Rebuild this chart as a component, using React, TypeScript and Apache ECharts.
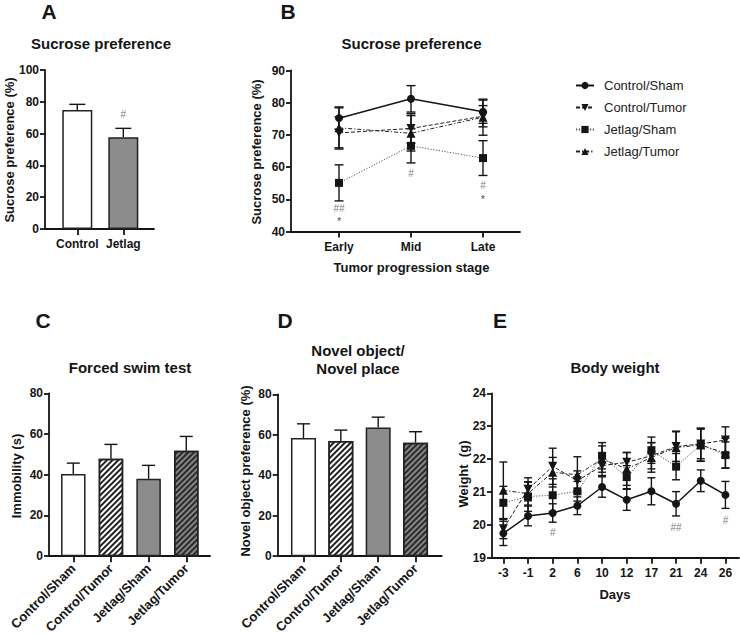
import React, { useEffect, useRef } from "react";
import * as echarts from "echarts";

const FONT = 'Arial, "Liberation Sans", Helvetica, sans-serif';

const groups = ["Control/Sham", "Control/Tumor", "Jetlag/Sham", "Jetlag/Tumor"];

// Panel A – sucrose preference (%)
const aCategories = ["Control", "Jetlag"];
const aValues = [74.8, 57.7];
const aErrors = [3.6, 5.6];
const aNotes = [{ x: 1, y: 72, text: "#" }];

// Panel B – sucrose preference over tumor progression (%)
const bStages = ["Early", "Mid", "Late"];
const bControlSham = [75.2, 81.2, 77.2];
const bControlTumor = [70.6, 72.0, 75.8];
const bJetlagSham = [55.1, 66.6, 62.8];
const bJetlagTumor = [72.2, 70.5, 75.5];
const bControlShamErr = [3.5, 4.1, 3.6];
const bControlTumorErr = [5.0, 4.6, 3.3];
const bJetlagShamErr = [5.6, 5.3, 5.4];
const bJetlagTumorErr = [6.2, 5.5, 5.6];
const bNotes = [
  { x: 0, y: 47.2, text: "##" },
  { x: 0, y: 43.2, text: "*" },
  { x: 1, y: 58.0, text: "#" },
  { x: 2, y: 54.2, text: "#" },
  { x: 2, y: 50.0, text: "*" },
];

// Panel C – forced swim test, immobility (s)
const cValues = [40.3, 47.8, 38.0, 51.8];
const cErrors = [5.4, 7.1, 6.6, 7.0];

// Panel D – novel object preference (%)
const dValues = [58.4, 56.9, 63.6, 56.1];
const dErrors = [7.0, 5.4, 5.1, 5.4];

// Panel E – body weight (g)
const eDays = ["-3", "-1", "2", "6", "10", "12", "17", "21", "24", "26"];
const eControlSham = [19.74, 20.27, 20.36, 20.58, 21.15, 20.76, 21.02, 20.64, 21.34, 20.91];
const eControlTumor = [19.88, 21.08, 21.78, 21.34, 21.8, 21.9, 22.1, 22.38, 22.46, 22.58];
const eJetlagSham = [20.67, 20.86, 20.9, 21.02, 22.1, 21.45, 22.27, 21.77, 22.44, 22.12];
const eJetlagTumor = [21.05, 20.95, 21.6, 21.52, 22.0, 21.7, 22.05, 22.35, 22.43, 22.18];
const eControlShamErr = [0.37, 0.3, 0.28, 0.27, 0.31, 0.32, 0.41, 0.37, 0.33, 0.41];
const eControlTumorErr = [0.3, 0.35, 0.55, 0.3, 0.3, 0.3, 0.4, 0.45, 0.45, 0.4];
const eJetlagShamErr = [0.5, 0.45, 0.5, 0.3, 0.4, 0.35, 0.4, 0.4, 0.5, 0.4];
const eJetlagTumorErr = [0.86, 0.35, 0.45, 0.55, 0.4, 0.5, 0.45, 0.5, 0.5, 0.45];
const eNotes = [
  { x: 2, y: 19.76, text: "#" },
  { x: 7, y: 19.92, text: "##" },
  { x: 9, y: 20.13, text: "#" },
];

const INK = "#151515";

const groupStyles = [
  { symbol: "circle", size: 8, rotate: 0, type: "solid" as any, color: INK, width: 1.5 },
  { symbol: "triangle", size: 9, rotate: 180, type: [4, 2] as any, color: "#222", width: 1 },
  { symbol: "rect", size: 8, rotate: 0, type: [1.2, 1.6] as any, color: "#555", width: 1 },
  { symbol: "triangle", size: 9, rotate: 0, type: [4, 2, 1.2, 2] as any, color: "#222", width: 1 },
];

const hatch = (color: string) => ({
  symbol: "rect",
  symbolSize: 1,
  dashArrayX: [1, 0],
  dashArrayY: [1.1, 1.6],
  rotation: -Math.PI / 4,
  color,
});

const barFills4 = [
  { color: "#ffffff" },
  { color: "#ffffff", decal: hatch("#222") },
  { color: "#8c8c8c" },
  { color: "#858585", decal: hatch("#2a2a2a") },
];
const barFills2 = [{ color: "#ffffff" }, { color: "#8c8c8c" }];

function yAxisCfg(idx: number, min: number, max: number, interval: number) {
  return {
    gridIndex: idx,
    type: "value",
    min,
    max,
    interval,
    axisLine: { show: true, onZero: false, lineStyle: { color: INK, width: 1.8 } },
    axisTick: { show: true, length: 5, lineStyle: { color: INK, width: 1.8 } },
    axisLabel: { fontSize: 12, fontWeight: "bold", color: INK, margin: 6, fontFamily: FONT },
    splitLine: { show: false },
  };
}

function xAxisCfg(idx: number, min: number, max: number, labels: string[], rotate = 0) {
  const ticks = labels.map((_, i) => i);
  return {
    gridIndex: idx,
    type: "value",
    min,
    max,
    axisLine: { show: true, onZero: false, lineStyle: { color: INK, width: 1.8 } },
    axisTick: { show: true, length: 6, customValues: ticks, lineStyle: { color: INK, width: 1.8 } },
    axisLabel: {
      customValues: ticks,
      formatter: (v: number) => labels[Math.round(v)] ?? "",
      fontSize: rotate ? 13 : 12,
      fontWeight: "bold",
      color: INK,
      margin: rotate ? 10 : 9,
      rotate,
      fontFamily: FONT,
    },
    splitLine: { show: false },
  };
}

function errSeries(ai: number, vals: number[], errs: number[], twoSided: boolean, capW: number) {
  return {
    type: "custom",
    xAxisIndex: ai,
    yAxisIndex: ai,
    z: 2,
    silent: true,
    data: vals.map((v, i) => [i, v, errs[i]]),
    encode: { x: 0, y: 1 },
    renderItem: (_p: any, api: any) => {
      const x = api.value(0);
      const y = api.value(1);
      const e = api.value(2);
      const top = api.coord([x, y + e]);
      const bot = api.coord([x, twoSided ? y - e : y]);
      const st = { stroke: INK, lineWidth: 1.4 };
      const children: any[] = [
        { type: "line", shape: { x1: top[0], y1: top[1], x2: bot[0], y2: bot[1] }, style: st },
        { type: "line", shape: { x1: top[0] - capW / 2, y1: top[1], x2: top[0] + capW / 2, y2: top[1] }, style: st },
      ];
      if (twoSided) {
        children.push({
          type: "line",
          shape: { x1: bot[0] - capW / 2, y1: bot[1], x2: bot[0] + capW / 2, y2: bot[1] },
          style: st,
        });
      }
      return { type: "group", children };
    },
  };
}

function barSeries(ai: number, vals: number[], fills: any[], width: number) {
  return {
    type: "bar",
    xAxisIndex: ai,
    yAxisIndex: ai,
    barWidth: width,
    z: 3,
    silent: true,
    data: vals.map((v, i) => ({ value: [i, v], itemStyle: fills[i] })),
    itemStyle: { borderColor: "#222", borderWidth: 1.5 },
  };
}

function lineSeries(ai: number, gi: number, vals: number[]) {
  const s = groupStyles[gi];
  return {
    type: "line",
    name: groups[gi],
    xAxisIndex: ai,
    yAxisIndex: ai,
    z: 4,
    silent: true,
    data: vals.map((v, i) => [i, v]),
    symbol: s.symbol,
    symbolSize: s.size,
    symbolRotate: s.rotate,
    showAllSymbol: true,
    lineStyle: { color: s.color, width: s.width, type: s.type },
    itemStyle: { color: INK },
  };
}

function noteSeries(ai: number, notes: { x: number; y: number; text: string }[], star: boolean) {
  const list = notes.filter((n) => (n.text === "*") === star);
  return {
    type: "scatter",
    xAxisIndex: ai,
    yAxisIndex: ai,
    z: 5,
    silent: true,
    symbolSize: 1,
    itemStyle: { color: "rgba(0,0,0,0)" },
    label: {
      show: true,
      position: "inside",
      formatter: (p: any) => p.name,
      fontSize: star ? 11 : 10,
      color: star ? "#222222" : "#555555",
      fontFamily: FONT,
    },
    data: list.map((n) => ({ value: [n.x, n.y], name: n.text })),
  };
}

function txt(x: number, y: number, text: string, size: number, rot = 0, weight = "bold") {
  return {
    type: "text",
    x,
    y,
    rotation: rot,
    silent: true,
    style: {
      text,
      fontSize: size,
      fontWeight: weight,
      fontFamily: FONT,
      fill: INK,
      align: "center",
      verticalAlign: "middle",
    },
  };
}

export default function App() {
  const ref = useRef<HTMLDivElement>(null);
  useEffect(() => {
    if (!ref.current) return;
    const chart = echarts.init(ref.current, undefined, { renderer: "svg" });
    const option: any = {
      animation: false,
      backgroundColor: "#ffffff",
      grid: [
        { left: 45, top: 70, width: 109, height: 159 },
        { left: 291, top: 70.5, width: 229, height: 161 },
        { left: 49, top: 393.3, width: 161, height: 163.4 },
        { left: 277.7, top: 394.3, width: 164, height: 163 },
        { left: 492, top: 393.3, width: 247, height: 164.4 },
      ],
      xAxis: [
        xAxisCfg(0, -0.702, 1.667, aCategories),
        xAxisCfg(1, -0.667, 2.514, bStages),
        xAxisCfg(2, -0.645, 3.63, groups, 45),
        xAxisCfg(3, -0.69, 3.7, groups, 45),
        xAxisCfg(4, -0.46, 9.55, eDays),
      ],
      yAxis: [
        yAxisCfg(0, 0, 100, 20),
        yAxisCfg(1, 40, 90, 10),
        yAxisCfg(2, 0, 80, 20),
        yAxisCfg(3, 0, 80, 20),
        yAxisCfg(4, 19, 24, 1),
      ],
      legend: {
        data: groups,
        orient: "vertical",
        left: 570,
        top: 74,
        itemWidth: 18,
        itemHeight: 9,
        itemGap: 9,
        selectedMode: false,
        textStyle: { fontSize: 13, color: "#222", fontFamily: FONT, padding: [0, 0, 0, 5] },
      },
      series: [
        // A
        errSeries(0, aValues, aErrors, false, 16),
        barSeries(0, aValues, barFills2, 30),
        noteSeries(0, aNotes, false),
        // B
        errSeries(1, bControlSham, bControlShamErr, true, 9),
        errSeries(1, bControlTumor, bControlTumorErr, true, 9),
        errSeries(1, bJetlagSham, bJetlagShamErr, true, 9),
        errSeries(1, bJetlagTumor, bJetlagTumorErr, true, 9),
        lineSeries(1, 0, bControlSham),
        lineSeries(1, 1, bControlTumor),
        lineSeries(1, 2, bJetlagSham),
        lineSeries(1, 3, bJetlagTumor),
        noteSeries(1, bNotes, false),
        noteSeries(1, bNotes, true),
        // C
        errSeries(2, cValues, cErrors, false, 13),
        barSeries(2, cValues, barFills4, 24.5),
        // D
        errSeries(3, dValues, dErrors, false, 13),
        barSeries(3, dValues, barFills4, 25),
        // E
        errSeries(4, eControlSham, eControlShamErr, true, 8),
        errSeries(4, eControlTumor, eControlTumorErr, true, 8),
        errSeries(4, eJetlagSham, eJetlagShamErr, true, 8),
        errSeries(4, eJetlagTumor, eJetlagTumorErr, true, 8),
        lineSeries(4, 0, eControlSham),
        lineSeries(4, 1, eControlTumor),
        lineSeries(4, 2, eJetlagSham),
        lineSeries(4, 3, eJetlagTumor),
        noteSeries(4, eNotes, false),
      ],
      graphic: [
        txt(49, 11, "A", 21),
        txt(288, 11, "B", 21),
        txt(43, 320, "C", 21),
        txt(285, 320, "D", 21),
        txt(500, 320, "E", 21),
        txt(101, 43, "Sucrose preference", 15),
        txt(411.5, 43, "Sucrose preference", 15),
        txt(130, 367, "Forced swim test", 15),
        txt(358, 350, "Novel object/", 15),
        txt(358, 368.5, "Novel place", 15),
        txt(615, 367, "Body weight", 15),
        txt(9, 150, "Sucrose preference (%)", 13, Math.PI / 2),
        txt(256.5, 152, "Sucrose preference (%)", 13, Math.PI / 2),
        txt(16, 476, "Immobility (s)", 13, Math.PI / 2),
        txt(245, 471, "Novel object preference (%)", 13, Math.PI / 2),
        txt(463, 474, "Weight  (g)", 13, Math.PI / 2),
        txt(411.5, 267, "Tumor progression stage", 13),
        txt(615, 594, "Days", 13),
      ],
    };
    chart.setOption(option);
    return () => chart.dispose();
  }, []);
  return (
    <div
      ref={ref}
      style={{ position: "absolute", left: 0, top: 0, width: 740, height: 636, background: "#fff" }}
    />
  );
}
